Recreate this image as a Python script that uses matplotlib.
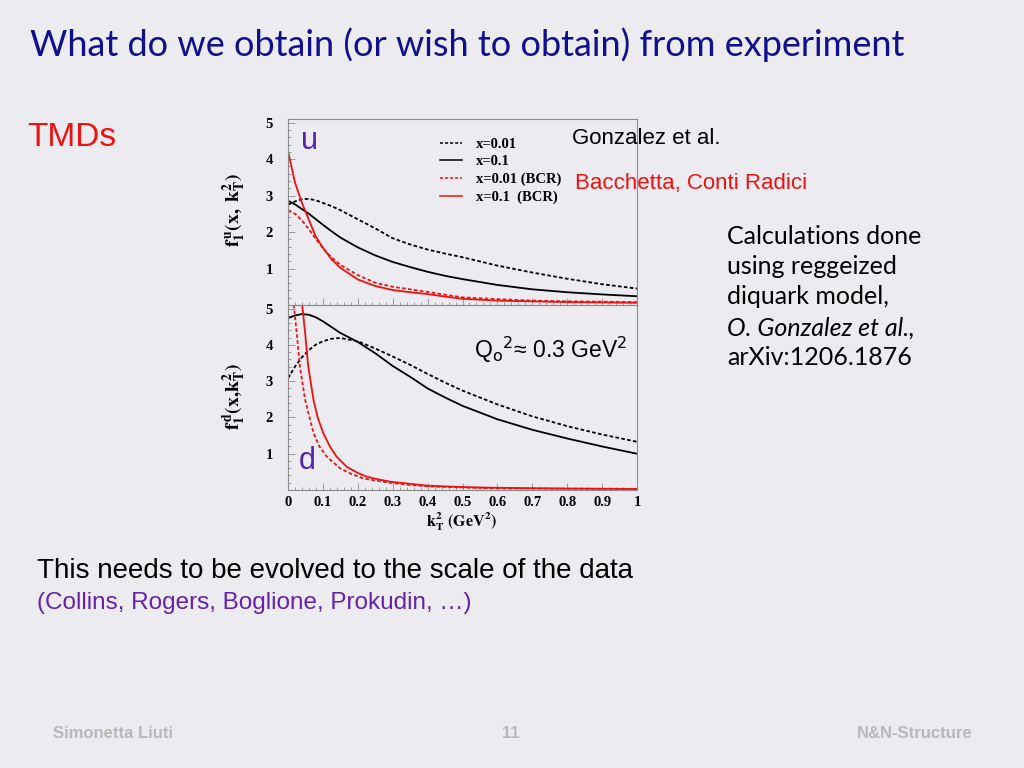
import matplotlib
matplotlib.use("Agg")
import matplotlib.pyplot as plt
from matplotlib.ticker import MultipleLocator

# --- data (k_T^2 in GeV^2) ---
k_grid = [0, 0.02, 0.04, 0.06, 0.08, 0.1, 0.125, 0.15, 0.2, 0.25, 0.3,
          0.35, 0.4, 0.45, 0.5, 0.6, 0.7, 0.8, 0.9, 1.0]

u_x001 = [2.75, 2.84, 2.90, 2.91, 2.87, 2.80, 2.71, 2.60, 2.35, 2.10, 1.83,
          1.66, 1.52, 1.41, 1.31, 1.08, 0.89, 0.72, 0.57, 0.45]
u_x01 = [2.86, 2.76, 2.63, 2.50, 2.35, 2.20, 2.02, 1.85, 1.58, 1.36, 1.18,
         1.04, 0.91, 0.80, 0.71, 0.55, 0.43, 0.35, 0.29, 0.24]
u_x001_bcr = [2.59, 2.50, 2.32, 2.07, 1.81, 1.56, 1.30, 1.10, 0.82, 0.61, 0.50,
              0.43, 0.36, 0.28, 0.21, 0.16, 0.12, 0.10, 0.09, 0.08]
u_x01_bcr = [4.22, 3.36, 2.80, 2.33, 1.87, 1.57, 1.25, 1.02, 0.70, 0.52, 0.41,
             0.35, 0.30, 0.23, 0.17, 0.12, 0.10, 0.08, 0.07, 0.06]

d_x001 = [3.08, 3.40, 3.66, 3.86, 4.01, 4.10, 4.17, 4.19, 4.10, 3.90, 3.68,
          3.45, 3.20, 2.96, 2.74, 2.36, 2.03, 1.76, 1.53, 1.33]
d_x01 = [4.74, 4.81, 4.85, 4.83, 4.76, 4.65, 4.49, 4.33, 4.08, 3.77, 3.42,
         3.12, 2.80, 2.55, 2.32, 1.95, 1.66, 1.42, 1.20, 1.00]

d_bcr_k = [0.012, 0.015, 0.025, 0.034, 0.049, 0.073, 0.09, 0.111, 0.149, 0.18,
           0.216, 0.25, 0.3, 0.35, 0.4, 0.5, 0.6, 0.7, 0.8, 0.9, 1.0]
d_x001_bcr = [5.6, 5.25, 4.33, 3.41, 2.49, 1.57, 1.20, 0.92, 0.60, 0.45,
              0.32, 0.26, 0.19, 0.14, 0.10, 0.07, 0.05, 0.04, 0.035, 0.03, 0.03]
d_bcr_k2 = [0.035, 0.039, 0.049, 0.058, 0.073, 0.085, 0.101, 0.12, 0.139, 0.168,
            0.2, 0.225, 0.25, 0.292, 0.35, 0.4, 0.5, 0.6, 0.7, 0.8, 0.9, 1.0]
d_x01_bcr = [5.7, 5.25, 4.34, 3.41, 2.49, 2.00, 1.57, 1.20, 0.92, 0.64,
             0.47, 0.37, 0.31, 0.23, 0.17, 0.12, 0.08, 0.06, 0.05, 0.04, 0.035, 0.03]

labels = ["x=0.01", "x=0.1", "x=0.01 (BCR)", "x=0.1  (BCR)"]

BG = "#ebebf0"
RED = "#ee1111"
FRAME = "#8c8c8c"
DOT = (0, (2.0, 1.3))


def px(x, y):
    return x / 1024, 1 - y / 768


fig = plt.figure(figsize=(10.24, 7.68), dpi=100)
fig.patch.set_facecolor(BG)

ax_u = fig.add_axes([288 / 1024, 1 - 305 / 768, 349 / 1024, 186 / 768])
ax_d = fig.add_axes([288 / 1024, 1 - 490 / 768, 349 / 1024, 185 / 768])

for ax in (ax_u, ax_d):
    ax.set_facecolor("none")
    ax.set_xlim(0, 1)
    ax.set_ylim(0, 5.1)
    ax.xaxis.set_major_locator(MultipleLocator(0.1))
    ax.xaxis.set_minor_locator(MultipleLocator(0.02))
    ax.yaxis.set_major_locator(MultipleLocator(1))
    ax.yaxis.set_minor_locator(MultipleLocator(0.2))
    ax.tick_params(which="both", direction="in", color=FRAME, width=0.6)
    ax.tick_params(which="major", length=5)
    ax.tick_params(which="minor", length=2.5)
    ax.tick_params(axis="y", pad=11)
    for s in ax.spines.values():
        s.set_color(FRAME)
        s.set_linewidth(0.8)
    ax.set_yticks([1, 2, 3, 4, 5])
    for lab in ax.get_yticklabels():
        lab.set_fontfamily("Liberation Serif")
        lab.set_fontweight("bold")
        lab.set_fontsize(10.5)

ax_u.tick_params(axis="x", labelbottom=False)
ax_d.tick_params(axis="x", pad=4)
ax_d.set_xticks([0, 0.1, 0.2, 0.3, 0.4, 0.5, 0.6, 0.7, 0.8, 0.9, 1.0])
ax_d.set_xticklabels(["0", "0.1", "0.2", "0.3", "0.4", "0.5", "0.6", "0.7", "0.8", "0.9", "1"])
for lab in ax_d.get_xticklabels():
    lab.set_fontfamily("Liberation Serif")
    lab.set_fontweight("bold")
    lab.set_fontsize(10.5)

# u quark
ax_u.plot(k_grid, u_x001, color="black", lw=1.3, ls=DOT, label=labels[0])
ax_u.plot(k_grid, u_x01, color="black", lw=1.3, label=labels[1])
ax_u.plot(k_grid, u_x001_bcr, color=RED, lw=1.3, ls=DOT, label=labels[2])
ax_u.plot(k_grid, u_x01_bcr, color=RED, lw=1.3, label=labels[3])

# d quark
ax_d.plot(k_grid, d_x001, color="black", lw=1.3, ls=DOT)
ax_d.plot(k_grid, d_x01, color="black", lw=1.3)
ax_d.plot(d_bcr_k, d_x001_bcr, color=RED, lw=1.3, ls=DOT)
ax_d.plot(d_bcr_k2, d_x01_bcr, color=RED, lw=1.3)

leg = ax_u.legend(loc="upper left", bbox_to_anchor=(0.435, 0.9), frameon=False,
                  prop=dict(family="Liberation Serif", weight="bold", size=10.5),
                  handlelength=1.5, handletextpad=0.95, labelspacing=0.3,
                  borderpad=0, borderaxespad=0)
for h in leg.get_lines():
    h.set_linewidth(1.1)

# axis labels
fig.text(*px(234, 210), r"$\mathbf{f_1^{\,u}(x,\ k_T^2)}$", rotation=90,
         ha="center", va="center", fontsize=14, math_fontfamily="stix")
fig.text(*px(234, 397), r"$\mathbf{f_1^{\,d}(x{,}k_T^2)}$", rotation=90,
         ha="center", va="center", fontsize=14, math_fontfamily="stix")
fig.text(*px(462, 522), r"$\mathbf{k_T^2\ (GeV^2)}$", ha="center", va="center",
         fontsize=11.5, math_fontfamily="stix")

# quark labels
fig.text(*px(301, 141), "u", color="#5522aa", fontsize=22, family="Liberation Sans",
         ha="left", va="center")
fig.text(*px(299, 461), "d", color="#5522aa", fontsize=22, family="Liberation Sans",
         ha="left", va="center")

# slide texts
fig.text(*px(30, 45), "What do we obtain (or wish to obtain) from experiment",
         color="#10108c", fontsize=26, family="Lato", ha="left", va="center")
fig.text(*px(27, 138), "TMDs", color=RED, fontsize=24, family="Liberation Sans",
         ha="left", va="center")
fig.text(*px(572, 139), "Gonzalez et al.", color="black", fontsize=16,
         family="Liberation Sans", ha="left", va="center")
fig.text(*px(575, 183), "Bacchetta, Conti Radici", color=RED, fontsize=16,
         family="Liberation Sans", ha="left", va="center")
fig.text(*px(474, 350), r"Q$_\mathrm{o}$$^2$≈ 0.3 GeV$^2$", color="black", fontsize=16.5,
         family="Liberation Sans", ha="left", va="center", math_fontfamily="dejavusans")

right_lines = ["Calculations done", "using reggeized", "diquark model,",
               "O. Gonzalez et al.,", "arXiv:1206.1876"]
right_y = [236, 267, 297, 328, 358]
for line, yy in zip(right_lines, right_y):
    fig.text(*px(727, yy), line, color="black", fontsize=18, family="Lato",
             ha="left", va="center",
             style="italic" if line.startswith("O.") else "normal")

fig.text(*px(37, 571), "This needs to be evolved to the scale of the data",
         color="black", fontsize=20, family="Liberation Sans", ha="left", va="center")
fig.text(*px(37, 603), "(Collins, Rogers, Boglione, Prokudin, …)",
         color="#6622aa", fontsize=17.5, family="Liberation Sans", ha="left", va="center")

FOOT = "#b8b8b8"
foot_font = dict(family="Liberation Sans", weight="bold", fontsize=12)
fig.text(*px(53, 733), "Simonetta Liuti", color=FOOT, ha="left", va="center", **foot_font)
fig.text(*px(511, 733), "11", color=FOOT, ha="center", va="center", **foot_font)
fig.text(*px(973, 733), "N&N-Structure", color=FOOT, ha="right", va="center", **foot_font)

fig.savefig("out.png", dpi=100, facecolor=BG)
